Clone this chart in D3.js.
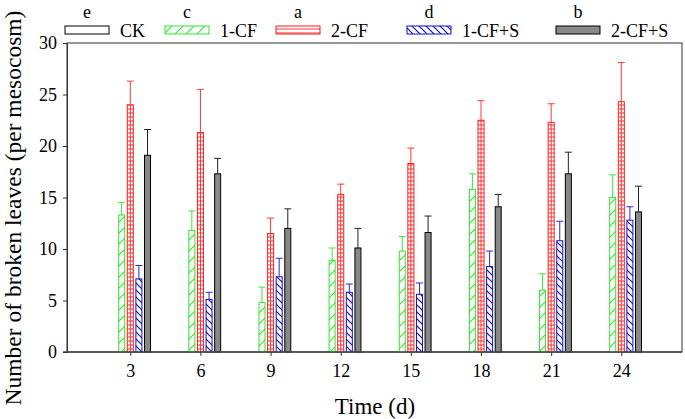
<!DOCTYPE html>
<html>
<head>
<meta charset="utf-8">
<script src="https://cdn.jsdelivr.net/npm/d3@7"></script>
<style>
  html, body { margin: 0; padding: 0; background: #fff; }
  svg { display: block; }
  text { font-family: "Liberation Serif", "Times New Roman", serif; fill: #000; }
</style>
</head>
<body>
<svg id="chart" width="685" height="419"></svg>
<script>
// ---------- data ----------
const days = [3, 6, 9, 12, 15, 18, 21, 24];
const seriesNames = ["CK", "1-CF", "2-CF", "1-CF+S", "2-CF+S"];
const sigLetters = ["e", "c", "a", "d", "b"];
const ckMean   = [0, 0, 0, 0, 0, 0, 0, 0];
const ckErr    = [0, 0, 0, 0, 0, 0, 0, 0];
const cf1Mean  = [13.3, 11.8, 4.8, 8.9, 9.8, 15.8, 6.0, 15.0];
const cf1Err   = [1.2, 1.9, 1.5, 1.2, 1.4, 1.5, 1.6, 2.2];
const cf2Mean  = [24.0, 21.3, 11.5, 15.3, 18.3, 22.5, 22.3, 24.3];
const cf2Err   = [2.3, 4.2, 1.5, 1.0, 1.5, 1.9, 1.8, 3.8];
const cf1sMean = [7.1, 5.1, 7.3, 5.8, 5.6, 8.3, 10.8, 12.8];
const cf1sErr  = [1.3, 0.7, 1.8, 0.8, 1.1, 1.5, 1.9, 1.3];
const cf2sMean = [19.1, 17.3, 12.0, 10.1, 11.6, 14.1, 17.3, 13.6];
const cf2sErr  = [2.5, 1.5, 1.9, 1.9, 1.6, 1.2, 2.1, 2.5];
const yTicks = [0, 5, 10, 15, 20, 25, 30];
const xTitle = "Time (d)";
const yTitle = "Number of broken leaves (per mesocosm)";

// ---------- layout ----------
const svg = d3.select("#chart");
const plot = { left: 67, right: 682, top: 43, bottom: 352 };
const legendX = [65, 165, 276, 407, 556];

const x = d3.scaleLinear().domain([3, 24]).range([130.3, 621.3]);
const y = d3.scaleLinear().domain([0, 30]).range([plot.bottom, plot.top]);
const slot = d3.scaleBand().domain(seriesNames).range([-21.5, 21.5])
  .paddingInner(0.3).paddingOuter(0.15);

const styles = {
  "CK":     { stroke: "#000",    fill: "#fff" },
  "1-CF":   { stroke: "#2ee82e", fill: "url(#pGreen)" },
  "2-CF":   { stroke: "#ff1a1a", fill: "url(#pRed)" },
  "1-CF+S": { stroke: "#1010c8", fill: "url(#pBlue)" },
  "2-CF+S": { stroke: "#000",    fill: "#888" }
};
const errColor = { "CK": "#000", "1-CF": "#3ae83a", "2-CF": "#ff3a3a", "1-CF+S": "#2a2ad0", "2-CF+S": "#222" };

// patterns
const defs = svg.append("defs");
const pg = defs.append("pattern").attr("id", "pGreen").attr("patternUnits", "userSpaceOnUse")
  .attr("width", 11).attr("height", 11);
pg.append("rect").attr("width", 11).attr("height", 11).attr("fill", "#fff");
pg.append("path").attr("d", "M0,11 L11,0 M-2,2 L2,-2 M9,13 L13,9")
  .attr("stroke", "#2ee82e").attr("stroke-width", 1.1);
const pb = defs.append("pattern").attr("id", "pBlue").attr("patternUnits", "userSpaceOnUse")
  .attr("width", 7).attr("height", 7);
pb.append("rect").attr("width", 7).attr("height", 7).attr("fill", "#fff");
pb.append("path").attr("d", "M0,0 L7,7 M-2,5 L2,9 M5,-2 L9,2")
  .attr("stroke", "#1010c8").attr("stroke-width", 1.2);
const pr = defs.append("pattern").attr("id", "pRed").attr("patternUnits", "userSpaceOnUse")
  .attr("width", 8).attr("height", 4).attr("y", 0.5);
pr.append("rect").attr("width", 8).attr("height", 4).attr("fill", "#fff");
pr.append("path").attr("d", "M0,0.5 L8,0.5").attr("stroke", "#ff3030").attr("stroke-width", 1);

// frame
svg.append("rect")
  .attr("x", plot.left).attr("y", plot.top)
  .attr("width", plot.right - plot.left).attr("height", plot.bottom - plot.top)
  .attr("fill", "none").attr("stroke", "#333").attr("stroke-width", 1);

// data table
const means = [ckMean, cf1Mean, cf2Mean, cf1sMean, cf2sMean];
const errs = [ckErr, cf1Err, cf2Err, cf1sErr, cf2sErr];
const rows = [];
seriesNames.forEach((s, si) => {
  days.forEach((d, di) => rows.push({ s, d, v: means[si][di], e: errs[si][di] }));
});

const bw = slot.bandwidth();
const bars = svg.append("g").selectAll("g").data(rows).join("g");
bars.append("rect")
  .attr("x", r => x(r.d) + slot(r.s))
  .attr("y", r => y(r.v))
  .attr("width", bw)
  .attr("height", r => y(0) - y(r.v))
  .attr("fill", r => styles[r.s].fill)
  .attr("stroke", r => styles[r.s].stroke)
  .attr("stroke-width", 1);
// center line for the red grid bars
bars.filter(r => r.s === "2-CF").append("line")
  .attr("x1", r => x(r.d) + slot(r.s) + bw / 2)
  .attr("x2", r => x(r.d) + slot(r.s) + bw / 2)
  .attr("y1", r => y(r.v)).attr("y2", y(0))
  .attr("stroke", "#ff3030").attr("stroke-width", 1);
// error bars (upper only)
const eb = bars.filter(r => r.e > 0);
eb.append("line")
  .attr("x1", r => x(r.d) + slot(r.s) + bw / 2)
  .attr("x2", r => x(r.d) + slot(r.s) + bw / 2)
  .attr("y1", r => y(r.v)).attr("y2", r => y(r.v + r.e))
  .attr("stroke", r => errColor[r.s]).attr("stroke-width", 1);
eb.append("line")
  .attr("x1", r => x(r.d) + slot(r.s) + bw / 2 - 3.5)
  .attr("x2", r => x(r.d) + slot(r.s) + bw / 2 + 3.5)
  .attr("y1", r => y(r.v + r.e)).attr("y2", r => y(r.v + r.e))
  .attr("stroke", r => errColor[r.s]).attr("stroke-width", 1);

// axes
const xAxis = svg.append("g").attr("transform", `translate(0,${plot.bottom})`)
  .call(d3.axisBottom(x).tickValues(days).tickSize(4).tickPadding(8));
xAxis.select(".domain").remove();
xAxis.selectAll("line").attr("stroke", "#333");
xAxis.selectAll("text").style("font-family", "Liberation Serif").style("font-size", "18px").attr("fill", "#000");
svg.append("line").attr("x1", plot.left - 4).attr("x2", plot.right)
  .attr("y1", plot.bottom).attr("y2", plot.bottom).attr("stroke", "#444").attr("stroke-width", 1.6);

const yAxis = svg.append("g").attr("transform", `translate(${plot.left},0)`)
  .call(d3.axisLeft(y).tickValues(yTicks).tickSize(4).tickPadding(6));
yAxis.select(".domain").attr("stroke", "#333");
yAxis.selectAll("line").attr("stroke", "#333");
yAxis.selectAll("text").style("font-family", "Liberation Serif").style("font-size", "18px").attr("fill", "#000");

// titles
svg.append("text").attr("x", 375).attr("y", 414)
  .attr("text-anchor", "middle").style("font-size", "23px").text(xTitle);
svg.append("text").attr("transform", "translate(21,208) rotate(-90)")
  .attr("text-anchor", "middle").style("font-size", "23.5px").text(yTitle);

// legend
const lg = svg.append("g").selectAll("g").data(seriesNames).join("g")
  .attr("transform", (s, i) => `translate(${legendX[i]},0)`);
lg.append("rect").attr("x", 0).attr("y", 26).attr("width", 44).attr("height", 8)
  .attr("fill", s => styles[s].fill).attr("stroke", s => styles[s].stroke).attr("stroke-width", 1);
lg.append("text").attr("x", 55).attr("y", 37).style("font-size", "18px").text(s => s);
lg.append("text").attr("x", 22).attr("y", 18).attr("text-anchor", "middle")
  .style("font-size", "18px").text((s, i) => sigLetters[i]);
</script>
</body>
</html>
